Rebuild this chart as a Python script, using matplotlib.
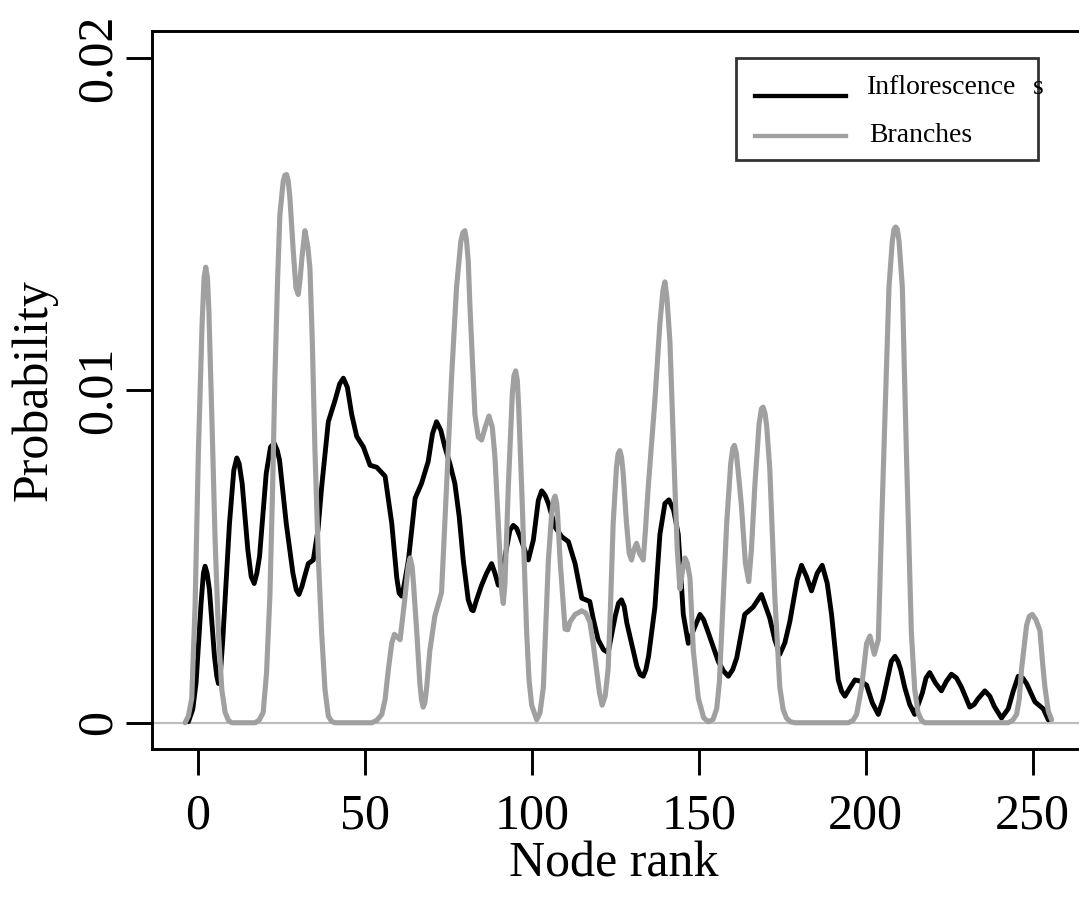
import numpy as np
import matplotlib
matplotlib.use("Agg")
import matplotlib.pyplot as plt
from matplotlib.lines import Line2D
from matplotlib.patches import Rectangle

plt.rcParams['font.family'] = ['Liberation Serif', 'DejaVu Serif']

# (node rank, probability in thousandths)
inflorescences = [
    (-2.8, 0.03), (-1.5, 0.4), (-0.5, 1.2), (1.0, 3.6), (1.7, 4.5), (2.2, 4.71),
    (2.8, 4.5), (3.5, 4.0), (5.0, 2.0), (5.7, 1.4), (6.2, 1.18), (6.8, 1.5),
    (7.5, 2.5), (9.5, 6.0), (10.8, 7.6), (11.7, 7.97), (12.4, 7.8), (13.3, 7.2),
    (15.0, 5.2), (16.0, 4.4), (16.9, 4.19), (17.7, 4.5), (18.5, 5.0), (20.5, 7.5),
    (21.8, 8.3), (22.9, 8.41), (23.8, 8.2), (24.5, 7.9), (26.5, 6.0), (28.5, 4.5),
    (29.5, 4.0), (30.3, 3.86), (31.2, 4.1), (32.0, 4.4), (33.1, 4.79), (34.6, 4.9),
    (36.0, 5.8), (37.1, 7.09), (39.1, 9.06), (41.1, 9.7), (42.5, 10.2), (43.6, 10.37),
    (44.8, 10.1), (46.1, 9.28), (47.6, 8.62), (49.6, 8.3), (51.6, 7.75), (53.6, 7.69),
    (56.1, 7.42), (58.1, 6.0), (59.6, 4.36), (60.3, 3.9), (61.1, 3.81), (61.9, 4.2),
    (63.1, 4.9), (65.1, 6.76), (67.0, 7.2), (69.0, 7.86), (70.3, 8.7), (71.5, 9.06),
    (72.8, 8.8), (74.0, 8.3), (75.5, 7.8), (77.0, 7.2), (78.3, 6.2), (79.5, 4.9),
    (81.0, 3.7), (82.0, 3.4), (82.5, 3.37), (83.5, 3.7), (85.0, 4.14), (86.5, 4.5),
    (88.0, 4.79), (89.0, 4.5), (90.0, 4.14), (91.0, 4.4), (92.0, 5.0), (93.5, 5.8),
    (94.5, 5.94), (95.5, 5.85), (96.5, 5.6), (99.0, 4.9), (100.5, 5.5), (102.0, 6.7),
    (103.0, 6.98), (104.0, 6.85), (105.0, 6.6), (107.0, 5.89), (109.0, 5.6), (111.0, 5.45),
    (113.0, 4.79), (115.0, 3.75), (116.2, 3.7), (117.4, 3.65), (118.5, 3.1), (119.9, 2.5),
    (121.5, 2.2), (122.9, 2.11), (125.0, 3.2), (126.0, 3.6), (126.9, 3.7), (127.7, 3.5),
    (128.5, 3.0), (129.9, 2.39), (131.5, 1.7), (132.5, 1.45), (133.4, 1.4), (134.2, 1.6),
    (135.0, 2.0), (136.9, 3.48), (138.4, 5.67), (139.9, 6.6), (141.1, 6.71), (142.5, 6.4),
    (143.9, 5.67), (145.4, 3.26), (146.9, 2.39), (148.5, 2.8), (150.4, 3.26), (151.5, 3.1),
    (152.9, 2.71), (155.9, 1.84), (157.5, 1.55), (158.9, 1.4), (160.2, 1.6), (161.4, 1.95),
    (162.6, 2.6), (163.8, 3.26), (166.3, 3.48), (168.8, 3.86), (171.3, 3.15), (172.8, 2.5),
    (174.3, 2.06), (175.8, 2.4), (177.3, 3.04), (179.5, 4.3), (180.8, 4.74), (182.3, 4.4),
    (183.8, 3.97), (185.5, 4.5), (187.0, 4.74), (188.5, 4.2), (189.8, 3.26), (191.8, 1.29),
    (192.8, 0.95), (193.8, 0.8), (195.3, 1.05), (196.8, 1.29), (198.5, 1.25), (200.3, 1.13),
    (202.0, 0.6), (203.8, 0.25), (205.2, 0.7), (206.5, 1.3), (207.7, 1.85), (208.8, 2.0),
    (209.7, 1.85), (210.5, 1.6), (211.7, 1.07), (213.2, 0.55), (214.7, 0.25), (217.0, 0.9),
    (218.1, 1.35), (219.2, 1.51), (220.9, 1.2), (222.7, 0.96), (224.2, 1.25), (225.7, 1.46),
    (227.2, 1.35), (228.7, 1.07), (231.2, 0.47), (232.5, 0.55), (233.5, 0.7), (235.7, 0.96),
    (237.2, 0.8), (238.5, 0.5), (240.7, 0.14), (242.7, 0.42), (244.2, 0.95), (245.7, 1.4),
    (247.0, 1.35), (248.2, 1.18), (250.7, 0.63), (253.2, 0.42), (254.7, 0.09),
]

branches = [
    (-3.8, 0.0), (-2.8, 0.2), (-1.8, 0.74), (-0.8, 3.5), (0.2, 8.19), (1.3, 12.0),
    (1.9, 13.4), (2.4, 13.71), (2.9, 13.4), (3.3, 12.5), (4.2, 9.28), (5.2, 5.5),
    (6.2, 2.71), (7.2, 1.0), (8.2, 0.31), (9.2, 0.07), (10.2, 0.0), (17.2, 0.0),
    (18.4, 0.08), (19.6, 0.31), (20.6, 1.5), (21.6, 3.81), (22.4, 7.0), (23.1, 10.37),
    (23.9, 13.3), (24.6, 15.3), (25.6, 16.3), (26.1, 16.48), (26.6, 16.5), (27.1, 16.3),
    (27.6, 15.8), (28.6, 14.2), (29.4, 13.1), (30.1, 12.89), (30.7, 13.4), (31.2, 14.0),
    (32.1, 14.81), (33.0, 14.3), (33.6, 13.66), (34.3, 11.5), (35.1, 8.19), (36.1, 5.0),
    (37.1, 2.71), (38.1, 1.0), (39.1, 0.2), (40.1, 0.04), (41.1, 0.0), (52.1, 0.0),
    (53.6, 0.07), (55.1, 0.25), (56.1, 0.7), (57.1, 1.62), (58.1, 2.4), (58.9, 2.66),
    (60.6, 2.5), (62.1, 3.81), (63.0, 4.7), (63.6, 4.96), (64.2, 4.7), (64.6, 4.2),
    (65.6, 2.71), (66.5, 1.2), (67.0, 0.7), (67.5, 0.47), (68.0, 0.6), (68.5, 1.0),
    (69.5, 2.17), (71.0, 3.21), (73.0, 3.92), (74.5, 7.09), (76.0, 10.37), (77.5, 13.11),
    (78.8, 14.5), (79.4, 14.75), (80.0, 14.81), (80.5, 14.5), (81.0, 13.9), (81.5, 12.56),
    (83.0, 9.28), (84.0, 8.6), (85.0, 8.51), (86.1, 8.9), (87.2, 9.23), (88.2, 8.9),
    (89.0, 8.0), (90.0, 6.0), (91.0, 4.0), (91.5, 3.59), (92.0, 4.2), (93.0, 7.09),
    (94.2, 9.9), (94.7, 10.45), (95.2, 10.59), (95.7, 10.3), (96.1, 9.5), (97.0, 7.09),
    (98.5, 2.71), (99.2, 1.3), (100.0, 0.53), (101.5, 0.09), (102.5, 0.3), (103.5, 1.07),
    (105.0, 4.9), (106.0, 6.3), (106.5, 6.7), (107.0, 6.82), (107.5, 6.6), (107.8, 6.2),
    (108.5, 4.9), (110.0, 2.82), (110.8, 2.8), (111.5, 3.04), (113.0, 3.26), (115.0, 3.37),
    (116.2, 3.3), (117.4, 3.04), (118.4, 2.4), (119.4, 1.62), (120.3, 0.9), (121.1, 0.53),
    (122.0, 0.8), (122.9, 1.62), (123.6, 3.5), (124.4, 6.0), (125.4, 7.7), (125.9, 8.1),
    (126.4, 8.19), (126.9, 8.0), (127.4, 7.5), (128.4, 6.0), (129.2, 5.1), (129.9, 4.9),
    (130.6, 5.2), (131.4, 5.4), (132.3, 5.1), (133.4, 4.9), (134.0, 5.7), (134.9, 7.09),
    (136.9, 9.7), (138.4, 12.02), (139.3, 13.0), (139.9, 13.27), (140.5, 12.8), (141.4, 11.47),
    (142.9, 7.09), (143.6, 5.2), (144.4, 4.03), (145.2, 4.6), (145.9, 4.96), (146.6, 4.8),
    (147.4, 4.36), (148.4, 2.17), (149.9, 0.74), (151.5, 0.15), (152.9, 0.03), (154.3, 0.1),
    (155.4, 0.42), (156.2, 1.2), (156.9, 2.71), (158.4, 6.0), (159.6, 7.8), (160.2, 8.25),
    (160.7, 8.35), (161.3, 8.1), (161.8, 7.6), (162.8, 6.55), (164.0, 4.8), (165.0, 4.25),
    (165.8, 5.2), (166.8, 7.09), (168.1, 9.0), (168.8, 9.45), (169.3, 9.5), (169.9, 9.3),
    (170.4, 8.9), (171.3, 7.64), (172.8, 3.81), (174.3, 1.07), (175.3, 0.4), (176.3, 0.14),
    (177.5, 0.03), (178.8, 0.0), (194.8, 0.0), (196.2, 0.07), (197.3, 0.25), (198.8, 1.07),
    (200.3, 2.39), (201.3, 2.61), (202.6, 2.06), (203.8, 2.5), (204.8, 6.0), (205.8, 9.28),
    (207.0, 13.11), (208.0, 14.5), (208.5, 14.85), (209.0, 14.92), (209.5, 14.85), (210.0, 14.5),
    (211.0, 13.11), (212.2, 8.19), (213.7, 2.71), (214.7, 1.0), (215.7, 0.31), (216.7, 0.08),
    (217.7, 0.0), (242.7, 0.0), (244.0, 0.07), (245.2, 0.25), (246.0, 0.7), (246.7, 1.62),
    (248.2, 2.93), (249.0, 3.2), (249.9, 3.26), (251.0, 3.1), (252.2, 2.77), (253.0, 1.8),
    (253.7, 1.07), (254.7, 0.35), (255.7, 0.09),
]

x_ticks = [0, 50, 100, 150, 200, 250]
y_ticks = [0, 0.01, 0.02]
y_tick_labels = ["0", "0.01", "0.02"]

infl_x, infl_y = zip(*inflorescences)
branch_x, branch_y = zip(*branches)

W, H = 1079, 899
fig = plt.figure(figsize=(W / 100, H / 100), dpi=100)


def fx(px):
    return px / W


def fy(py):
    return 1 - py / H


ax = fig.add_axes([fx(152), fy(749), fx(1081) - fx(152), fy(31) - fy(749)])

ax.axhline(0, color='#bebebe', lw=1.6, zorder=1)
ax.plot(infl_x, np.array(infl_y) / 1000, color='black', lw=3.5, zorder=2,
        solid_joinstyle='round', solid_capstyle='round')
ax.plot(branch_x, np.array(branch_y) / 1000, color='#a0a0a0', lw=3.7, zorder=3,
        solid_joinstyle='round', solid_capstyle='round')

ax.set_xlim(-13.7, 264.5)
ax.set_ylim(-0.00079, 0.02082)
ax.set_xticks(x_ticks)
ax.set_yticks(y_ticks)
ax.set_yticklabels(y_tick_labels, rotation=90, va='center')

for s in ax.spines.values():
    s.set_linewidth(2.1)
ax.tick_params(axis='both', direction='out', length=19, width=2.1,
               labelsize=36, colors='black')
ax.tick_params(axis='x', pad=13)
ax.tick_params(axis='y', pad=3)

ax.set_xlabel("Node rank", fontsize=36)
ax.set_ylabel("Probability", fontsize=36)
ax.xaxis.set_label_coords(0.497, -0.128)
ax.yaxis.set_label_coords(-0.102, 0.5)

# legend box drawn by hand, as in the original
fig.patches.append(Rectangle((fx(736), fy(160)), fx(1038) - fx(736), fy(58) - fy(160),
                             transform=fig.transFigure, fill=True, facecolor='white',
                             edgecolor='#333333', lw=2.0, zorder=5))
fig.lines.append(Line2D([fx(755), fx(846)], [fy(96), fy(96)], transform=fig.transFigure,
                        color='black', lw=3.1, zorder=6))
fig.lines.append(Line2D([fx(755), fx(846)], [fy(135.5), fy(135.5)], transform=fig.transFigure,
                        color='#a0a0a0', lw=3.1, zorder=6))
fig.text(fx(867), fy(94), "Inflorescence", fontsize=20, va='baseline', zorder=7)
fig.text(fx(1033), fy(94), "s", fontsize=20, va='baseline', zorder=7)
fig.text(fx(869), fy(142), "Branches", fontsize=20, va='baseline', zorder=7)

fig.savefig("out.png", dpi=100)
